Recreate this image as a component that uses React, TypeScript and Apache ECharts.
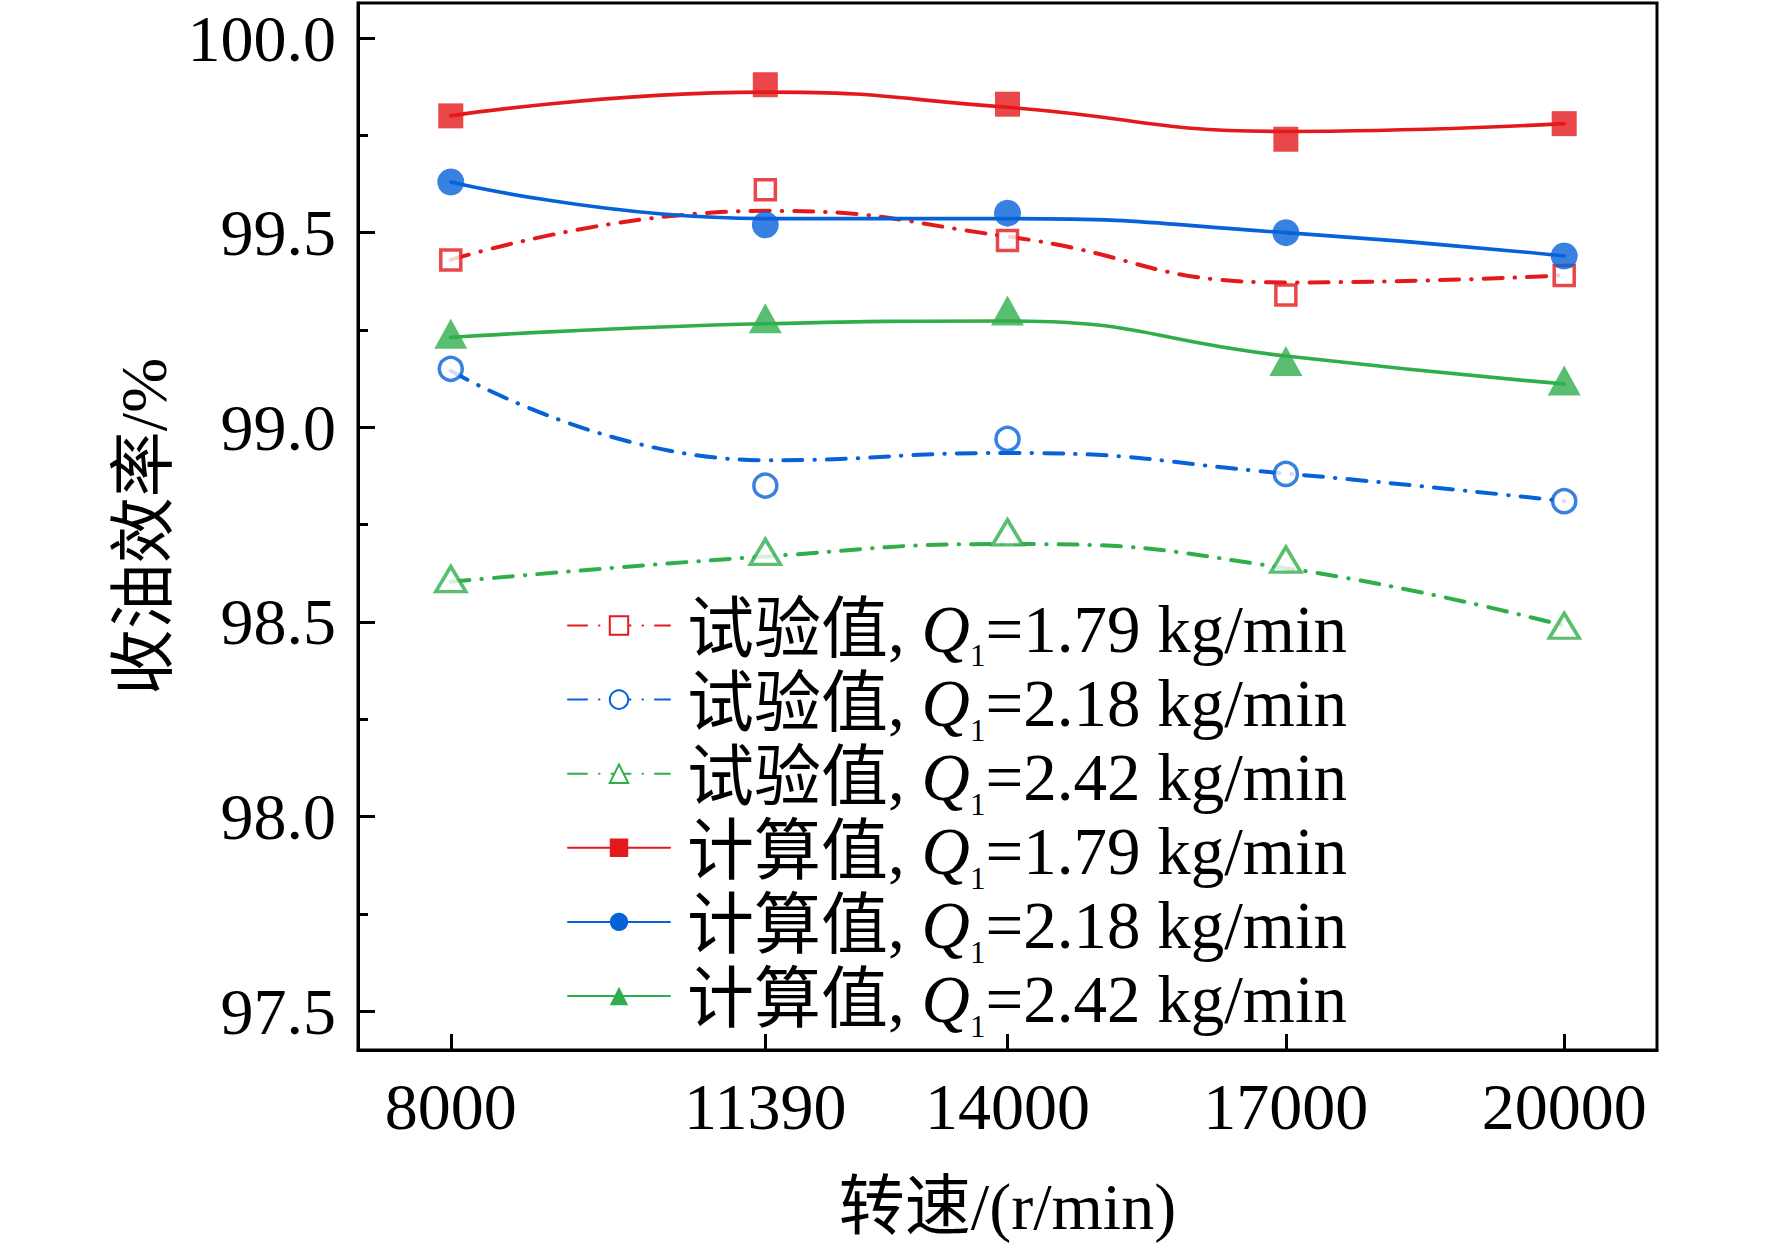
import React, { useEffect, useRef } from 'react';
import * as echarts from 'echarts';

// ---- data ----
const speeds = [8000, 11390, 14000, 17000, 20000];

// measured points (markers)
const expPts179 = [99.43, 99.61, 99.48, 99.34, 99.39];
const expPts218 = [99.15, 98.85, 98.97, 98.88, 98.81];
const expPts242 = [98.61, 98.68, 98.73, 98.66, 98.49];
const calcPts179 = [99.8, 99.88, 99.83, 99.74, 99.78];
const calcPts218 = [99.63, 99.52, 99.55, 99.5, 99.44];
const calcPts242 = [99.24, 99.28, 99.3, 99.17, 99.12];

// fitted curve values read at the same speeds
const expFit179 = [99.43, 99.556, 99.49, 99.372, 99.39];
const expFit218 = [99.145, 98.915, 98.934, 98.881, 98.81];
const expFit242 = [98.603, 98.668, 98.7, 98.638, 98.49];
const calcFit179 = [99.8, 99.861, 99.822, 99.76, 99.78];
const calcFit218 = [99.63, 99.536, 99.536, 99.5, 99.44];
const calcFit242 = [99.231, 99.266, 99.273, 99.183, 99.111];

const majorTicks = [97.5, 98.0, 98.5, 99.0, 99.5, 100.0];
const minorTicks = [97.75, 98.25, 98.75, 99.25, 99.75];

const RED = '#E3191C';
const BLUE = '#0762D9';
const GREEN = '#30AE4B';
const SERIF = "'Liberation Serif', 'Times New Roman', 'Noto Sans CJK SC', serif";
const DASH = [19, 12, 0.5, 12];

const defs = [
  { key: 'exp179', label: '试验值', q: '1.79', fit: expFit179, pts: expPts179, color: RED, dashed: true, legendSymbol: 'emptyRect', symbol: 'rect', size: 20 as any, hollow: true },
  { key: 'exp218', label: '试验值', q: '2.18', fit: expFit218, pts: expPts218, color: BLUE, dashed: true, legendSymbol: 'emptyCircle', symbol: 'circle', size: 23 as any, hollow: true },
  { key: 'exp242', label: '试验值', q: '2.42', fit: expFit242, pts: expPts242, color: GREEN, dashed: true, legendSymbol: 'emptyTriangle', symbol: 'triangle', size: [30, 25] as any, hollow: true },
  { key: 'calc179', label: '计算值', q: '1.79', fit: calcFit179, pts: calcPts179, color: RED, dashed: false, legendSymbol: 'rect', symbol: 'rect', size: 25 as any, hollow: false },
  { key: 'calc218', label: '计算值', q: '2.18', fit: calcFit218, pts: calcPts218, color: BLUE, dashed: false, legendSymbol: 'circle', symbol: 'circle', size: 27 as any, hollow: false },
  { key: 'calc242', label: '计算值', q: '2.42', fit: calcFit242, pts: calcPts242, color: GREEN, dashed: false, legendSymbol: 'triangle', symbol: 'triangle', size: [33, 30] as any, hollow: false },
];

export default function App() {
  const ref = useRef<HTMLDivElement>(null);

  useEffect(() => {
    if (!ref.current) return;
    const chart = echarts.init(ref.current, null, { renderer: 'svg' });

    const series: any[] = [];
    defs.forEach((d) => {
      series.push({
        type: 'line',
        name: d.key,
        data: speeds.map((s, i) => [s, d.fit[i]]),
        smooth: 0.5,
        showSymbol: false,
        symbol: d.legendSymbol,
        color: d.color,
        lineStyle: { color: d.color, width: d.dashed ? 4 : 3.6, type: d.dashed ? DASH : 'solid', cap: 'round' },
        itemStyle: { color: d.color },
        z: 2,
        silent: true,
      });
      series.push({
        type: 'scatter',
        name: d.key + '_pts',
        data: speeds.map((s, i) => [s, d.pts[i]]),
        symbol: d.symbol,
        symbolSize: d.size,
        itemStyle: d.hollow ? { color: '#fff', borderColor: d.color, borderWidth: 3.5 } : { color: d.color },
        z: 3,
        silent: true,
      });
    });

    const labelStyle = { fontFamily: SERIF, fontSize: 66, color: '#000' };
    const LF = 67;

    chart.setOption({
      animation: false,
      backgroundColor: '#fff',
      grid: { left: 358, right: 115, top: 3, bottom: 198, show: true, borderColor: '#000', borderWidth: 3, backgroundColor: 'transparent' },
      xAxis: {
        type: 'value',
        min: 7000,
        max: 21000,
        name: '转速/(r/min)',
        nameLocation: 'middle',
        nameGap: 123,
        nameTextStyle: labelStyle,
        axisLine: { lineStyle: { color: '#000', width: 3 } },
        axisTick: { inside: true, length: 16, lineStyle: { color: '#000', width: 3 }, customValues: speeds },
        axisLabel: { ...labelStyle, margin: 23, customValues: speeds, formatter: (v: number) => String(v) },
        splitLine: { show: false },
      },
      yAxis: [
        {
          type: 'value',
          min: 97.4,
          max: 100.09,
          position: 'left',
          name: '收油效率/%',
          nameLocation: 'middle',
          nameRotate: 90,
          nameGap: 175,
          nameTextStyle: labelStyle,
          axisLine: { show: true, lineStyle: { color: '#000', width: 3 } },
          axisTick: { show: true, inside: true, length: 17, lineStyle: { color: '#000', width: 3 }, customValues: majorTicks },
          axisLabel: { ...labelStyle, margin: 22, customValues: majorTicks, formatter: (v: number) => v.toFixed(1) },
          splitLine: { show: false },
        },
        {
          type: 'value',
          min: 97.4,
          max: 100.09,
          position: 'left',
          offset: 0,
          axisLine: { show: false },
          axisTick: { show: true, inside: true, length: 10, lineStyle: { color: '#000', width: 3 }, customValues: minorTicks },
          axisLabel: { show: false },
          splitLine: { show: false },
        },
      ],
      legend: {
        orient: 'vertical',
        left: 567,
        top: 595,
        padding: 0,
        itemWidth: 102,
        itemHeight: 23,
        itemGap: -2.4,
        selectedMode: false,
        data: defs.map((d) => d.key),
        formatter: (name: string) => {
          const d = defs.find((x) => x.key === name)!;
          return `{c|${d.label}, }{q|Q}{s|1}{a|=${d.q} kg/min}`;
        },
        textStyle: {
          fontFamily: SERIF,
          fontSize: LF,
          color: '#000',
          rich: {
            c: { fontFamily: SERIF, fontSize: LF, color: '#000', verticalAlign: 'top', padding: [15.5, 0, 0, 12] },
            q: { fontFamily: SERIF, fontSize: LF, color: '#000', fontStyle: 'italic', verticalAlign: 'top', padding: [15.5, 0, 0, 0] },
            s: { fontFamily: SERIF, fontSize: 31, color: '#000', verticalAlign: 'top', padding: [61, 0, 0, 0] },
            a: { fontFamily: SERIF, fontSize: LF, color: '#000', verticalAlign: 'top', padding: [15.5, 0, 0, 0] },
          },
        },
      },
      series,
    });

    return () => chart.dispose();
  }, []);

  return <div ref={ref} style={{ position: 'absolute', left: 0, top: 0, width: 1772, height: 1248 }} />;
}
